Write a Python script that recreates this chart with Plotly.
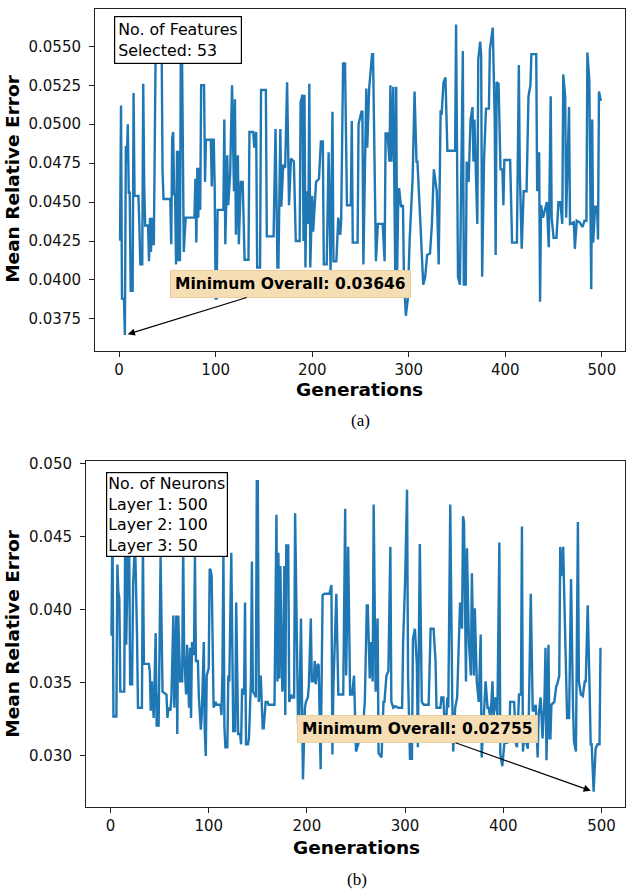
import plotly.graph_objects as go

W, H = 629, 893

# ---------------- data ----------------
gen_a = [0, 1, 2, 3, 5, 6, 7, 8, 9, 10, 11, 12, 14, 15, 16, 20, 21, 22, 24, 25, 26, 27, 30, 31, 32, 33, 34, 35, 36, 38,
         39, 44, 45, 46, 53, 54, 55, 56, 57, 58, 59, 60, 61, 62, 63, 64, 65, 66, 67, 68, 69, 78, 79, 80, 81, 82, 83, 84,
         85, 88, 89, 90, 95, 96, 97, 98, 99, 100, 101, 102, 108, 109, 110, 112, 113, 115, 117, 119, 120, 121, 123, 124,
         126, 128, 130, 134, 135, 139, 140, 142, 143, 146, 147, 152, 153, 160, 162, 164, 165, 167, 168, 170, 172, 174,
         176, 178, 181, 183, 187, 188, 190, 191, 192, 193, 194, 196, 197, 198, 200, 201, 203, 204, 207, 209, 211, 212,
         215, 217, 219, 221, 222, 225, 227, 229, 230, 232, 234, 236, 240, 241, 242, 247, 248, 251, 252, 253, 256, 257,
         259, 262, 263, 264, 266, 268, 273, 275, 276, 278, 280, 281, 282, 284, 286, 287, 288, 289, 290, 292, 294, 295,
         297, 299, 301, 304, 306, 308, 309, 312, 315, 317, 319, 322, 324, 326, 328, 329, 331, 333, 334, 336, 338, 340,
         348, 349, 351, 353, 356, 357, 359, 360, 362, 364, 366, 367, 368, 369, 371, 372, 374, 375, 376, 378, 380, 383,
         384, 387, 389, 390, 391, 393, 395, 397, 398, 399, 405, 407, 412, 414, 415, 417, 419, 422, 424, 426, 427, 432,
         433, 435, 436, 437, 439, 443, 445, 447, 448, 450, 453, 455, 457, 459, 460, 462, 463, 466, 467, 471, 472, 474,
         477, 480, 482, 484, 485, 487, 489, 490, 491, 493, 495, 496, 497, 499]
mre_a = [0.0426, 0.0426, 0.0512, 0.0388, 0.0388, 0.03646, 0.0486, 0.0476, 0.0500, 0.0456, 0.0456, 0.0393, 0.0393,
         0.0520, 0.0454, 0.0454, 0.0435, 0.0410, 0.0410, 0.0526, 0.0461, 0.0435, 0.0435, 0.0412, 0.0440, 0.0418,
         0.0440, 0.0423, 0.0423, 0.0557, 0.0557, 0.0557, 0.0470, 0.0452, 0.0452, 0.0423, 0.0491, 0.0495, 0.0455,
         0.0455, 0.0410, 0.0483, 0.0412, 0.0483, 0.0412, 0.0557, 0.0557, 0.0505, 0.0418, 0.0430, 0.0440, 0.0440,
         0.0465, 0.0424, 0.0472, 0.0440, 0.0472, 0.0445, 0.0525, 0.0525, 0.0463, 0.0490, 0.0490, 0.0460, 0.0490,
         0.0490, 0.0460, 0.0388, 0.0388, 0.0445, 0.0445, 0.0503, 0.0423, 0.0480, 0.0448, 0.0468, 0.0525, 0.0457,
         0.0516, 0.0429, 0.0480, 0.0423, 0.0463, 0.0463, 0.0413, 0.0413, 0.0495, 0.0495, 0.0485, 0.0495, 0.0408,
         0.0408, 0.0522, 0.0522, 0.0428, 0.0428, 0.0497, 0.0408, 0.0408, 0.0497, 0.0447, 0.0474, 0.0472, 0.0527,
         0.0448, 0.0478, 0.0476, 0.0425, 0.0425, 0.0514, 0.0519, 0.0425, 0.0519, 0.0408, 0.0457, 0.0436, 0.0526,
         0.0408, 0.0454, 0.0431, 0.0450, 0.0463, 0.0465, 0.0489, 0.0489, 0.0410, 0.0410, 0.0482, 0.0406, 0.0508,
         0.0412, 0.0412, 0.0440, 0.0429, 0.0438, 0.0539, 0.0539, 0.0448, 0.0448, 0.0502, 0.0424, 0.0424, 0.0500,
         0.0508, 0.0508, 0.0410, 0.0523, 0.0485, 0.0523, 0.0545, 0.0545, 0.0504, 0.0412, 0.0436, 0.0436, 0.0412,
         0.0494, 0.0494, 0.0476, 0.0525, 0.0476, 0.0524, 0.0406, 0.0524, 0.0406, 0.0448, 0.0459, 0.0447, 0.0448,
         0.0402, 0.0377, 0.0388, 0.0427, 0.0465, 0.0521, 0.0476, 0.0476, 0.0437, 0.0397, 0.0402, 0.0416, 0.0417,
         0.0436, 0.0471, 0.0463, 0.0457, 0.0410, 0.0509, 0.0506, 0.0527, 0.0530, 0.0483, 0.0483, 0.0564, 0.0402,
         0.0397, 0.0547, 0.0397, 0.0397, 0.0476, 0.0463, 0.0503, 0.0511, 0.0476, 0.0503, 0.0478, 0.0436, 0.0542,
         0.0553, 0.0544, 0.0402, 0.0478, 0.0510, 0.0510, 0.0548, 0.0562, 0.0504, 0.0416, 0.0527, 0.0526, 0.0471,
         0.0471, 0.0448, 0.0477, 0.0477, 0.0424, 0.0424, 0.0538, 0.0470, 0.0420, 0.0457, 0.0457, 0.0518, 0.0525,
         0.0545, 0.0545, 0.0457, 0.0482, 0.0386, 0.0448, 0.0440, 0.0450, 0.0421, 0.0518, 0.0440, 0.0427, 0.0427,
         0.0450, 0.0450, 0.0436, 0.0532, 0.0518, 0.0440, 0.0511, 0.0436, 0.0437, 0.0420, 0.0438, 0.0437, 0.0434,
         0.0438, 0.0438, 0.0546, 0.0528, 0.0394, 0.0503, 0.0424, 0.0447, 0.0447, 0.0426, 0.0521, 0.0515]

gen_b = [0, 1, 2, 3, 6, 7, 8, 9, 10, 14, 15, 16, 18, 19, 20, 22, 23, 25, 27, 28, 32, 33, 34, 39, 40, 41, 42, 43, 44, 46,
         47, 48, 49, 51, 53, 57, 58, 59, 61, 62, 64, 65, 67, 68, 69, 71, 73, 74, 75, 77, 78, 80, 81, 82, 83, 85, 86, 87,
         89, 90, 92, 93, 95, 96, 97, 98, 100, 101, 102, 103, 105, 107, 108, 112, 113, 114, 115, 116, 117, 119, 120, 121,
         123, 125, 127, 128, 130, 132, 133, 134, 136, 137, 138, 140, 141, 143, 144, 145, 147, 148, 149, 150, 151, 153,
         155, 156, 158, 160, 161, 167, 168, 169, 170, 171, 172, 173, 175, 176, 177, 178, 179, 181, 182, 184, 185, 187,
         188, 190, 191, 192, 194, 196, 198, 199, 201, 202, 204, 205, 207, 208, 209, 211, 212, 214, 216, 218, 223, 225,
         226, 227, 230, 232, 237, 239, 240, 242, 244, 246, 248, 250, 254, 256, 257, 259, 261, 262, 264, 265, 267, 268,
         270, 272, 273, 276, 278, 279, 281, 283, 285, 286, 288, 290, 293, 297, 298, 300, 302, 303, 305, 307, 308, 310,
         312, 313, 314, 315, 317, 319, 324, 326, 329, 331, 332, 336, 337, 339, 341, 343, 344, 346, 348, 349, 351, 353,
         356, 358, 359, 360, 362, 363, 365, 367, 368, 370, 371, 372, 373, 375, 377, 378, 380, 382, 384, 385, 387, 389,
         390, 392, 394, 396, 397, 399, 401, 402, 404, 406, 407, 411, 413, 414, 416, 418, 419, 420, 422, 423, 425, 426,
         428, 430, 431, 433, 435, 436, 438, 440, 442, 443, 444, 446, 447, 448, 449, 452, 454, 455, 457, 458, 459, 461,
         462, 464, 465, 467, 469, 471, 472, 474, 476, 477, 479, 481, 483, 484, 486, 488, 489, 490, 492, 494, 496, 498,
         499]
mre_b = [0.0383, 0.0383, 0.0462, 0.0327, 0.0327, 0.0431, 0.0412, 0.0408, 0.0344, 0.0344, 0.0457, 0.0376, 0.0448,
         0.0448, 0.0349, 0.0349, 0.0417, 0.0448, 0.0383, 0.0333, 0.0333, 0.0446, 0.0363, 0.0363, 0.0358, 0.0331,
         0.0351, 0.0331, 0.0326, 0.0384, 0.0320, 0.0342, 0.0320, 0.0436, 0.0344, 0.0342, 0.0326, 0.0333, 0.0331,
         0.0339, 0.0396, 0.0333, 0.0396, 0.0315, 0.0396, 0.0351, 0.0351, 0.0446, 0.0369, 0.0342, 0.0376, 0.0333,
         0.0374, 0.0326, 0.0378, 0.0369, 0.0437, 0.0365, 0.0365, 0.0340, 0.0318, 0.0328, 0.0378, 0.0317, 0.0300,
         0.0355, 0.0360, 0.0428, 0.0427, 0.0423, 0.0333, 0.0337, 0.0335, 0.0335, 0.0328, 0.0358, 0.0439, 0.0320,
         0.0306, 0.0306, 0.0355, 0.0351, 0.0439, 0.0317, 0.0317, 0.0405, 0.0315, 0.0315, 0.0308, 0.0346, 0.0342,
         0.0405, 0.0308, 0.0308, 0.0312, 0.0351, 0.0433, 0.0344, 0.0342, 0.0340, 0.0488, 0.0488, 0.0337, 0.0355,
         0.0319, 0.0319, 0.0337, 0.0337, 0.0335, 0.0335, 0.0394, 0.0465, 0.0351, 0.0439, 0.0353, 0.0430, 0.0344,
         0.0351, 0.0430, 0.0328, 0.0444, 0.0444, 0.0337, 0.0342, 0.0340, 0.0340, 0.0466, 0.0355, 0.0322, 0.0315,
         0.0394, 0.0284, 0.0333, 0.0337, 0.0340, 0.0348, 0.0394, 0.0351, 0.0351, 0.0365, 0.0349, 0.0363, 0.0362,
         0.0291, 0.0410, 0.0411, 0.0411, 0.0417, 0.0301, 0.0348, 0.0411, 0.0342, 0.0342, 0.0469, 0.0355, 0.0443,
         0.0342, 0.0342, 0.0355, 0.0303, 0.0312, 0.0328, 0.0319, 0.0337, 0.0403, 0.0403, 0.0353, 0.0378, 0.0351,
         0.0472, 0.0344, 0.0394, 0.0302, 0.0299, 0.0337, 0.0337, 0.0355, 0.0358, 0.0443, 0.0337, 0.0333, 0.0334,
         0.0333, 0.0333, 0.0378, 0.0419, 0.0482, 0.0355, 0.0298, 0.0298, 0.0380, 0.0387, 0.0362, 0.0306, 0.0380,
         0.0445, 0.0337, 0.0335, 0.0335, 0.0387, 0.0387, 0.0365, 0.0333, 0.0333, 0.0340, 0.0340, 0.0310, 0.0340,
         0.0333, 0.0472, 0.0340, 0.0303, 0.0333, 0.0340, 0.0405, 0.0387, 0.0464, 0.0460, 0.0351, 0.0442, 0.0378,
         0.0355, 0.0425, 0.0355, 0.0401, 0.0378, 0.0351, 0.0337, 0.0383, 0.0299, 0.0328, 0.0351, 0.0333, 0.0333,
         0.0326, 0.0351, 0.0326, 0.0340, 0.0328, 0.0446, 0.0301, 0.0293, 0.0308, 0.0310, 0.0309, 0.0310, 0.0337,
         0.0337, 0.0308, 0.0306, 0.0342, 0.0342, 0.0457, 0.0303, 0.0319, 0.0310, 0.0305, 0.0328, 0.0411, 0.0331,
         0.0331, 0.0335, 0.0299, 0.0328, 0.0340, 0.0312, 0.0340, 0.0374, 0.0297, 0.0376, 0.0312, 0.0312, 0.0335,
         0.0337, 0.0348, 0.0349, 0.0355, 0.0443, 0.0423, 0.0443, 0.0412, 0.0358, 0.0326, 0.0326, 0.0421, 0.0333,
         0.0310, 0.0303, 0.0460, 0.0351, 0.0342, 0.0341, 0.0351, 0.0351, 0.0403, 0.0342, 0.0308, 0.0308, 0.02755,
         0.0305, 0.0308, 0.0308, 0.0374]

x_ticks = [0, 100, 200, 300, 400, 500]
y_ticks_a = [0.0375, 0.0400, 0.0425, 0.0450, 0.0475, 0.0500, 0.0525, 0.0550]
y_ticks_b = [0.030, 0.035, 0.040, 0.045, 0.050]

info_a = "No. of Features<br>Selected: 53"
info_b = "No. of Neurons<br>Layer 1: 500<br>Layer 2: 100<br>Layer 3: 50"
min_a_gen, min_a_val = 6, 0.03646
min_b_gen, min_b_val = 492, 0.02755
label_a_pos = (177.6, 0.03974)
label_b_pos = (312.6, 0.03183)

# ---------------- figure ----------------
LINE = '#1f77b4'
FONT = 'DejaVu Sans'

fig = go.Figure()
fig.add_trace(go.Scatter(x=gen_a, y=mre_a, mode='lines', line=dict(color=LINE, width=2.4),
                         xaxis='x', yaxis='y', showlegend=False))
fig.add_trace(go.Scatter(x=gen_b, y=mre_b, mode='lines', line=dict(color=LINE, width=2.4),
                         xaxis='x2', yaxis='y2', showlegend=False))

def px(xp):
    return xp / W

def py(yp):
    return 1 - yp / H

axis_common = dict(showline=True, mirror=True, linecolor='#222', linewidth=1, ticks='outside',
                   ticklen=5, tickwidth=1, tickcolor='#222', showgrid=False, zeroline=False,
                   tickfont=dict(family=FONT, size=15, color='#111'))

fig.update_layout(
    width=W, height=H, margin=dict(l=0, r=0, t=0, b=0),
    paper_bgcolor='white', plot_bgcolor='white',
    xaxis=dict(domain=[px(95), px(625)], range=[-24.95, 523.95], tickvals=x_ticks,
               anchor='y', ticklabelstandoff=0, **axis_common),
    yaxis=dict(domain=[py(347), py(3)], range=[0.03546, 0.0574], tickvals=y_ticks_a,
               tickformat='.4f', anchor='x', ticklabelstandoff=5, **axis_common),
    xaxis2=dict(domain=[px(86), px(625)], range=[-24.95, 523.95], tickvals=x_ticks,
                anchor='y2', ticklabelstandoff=0, **axis_common),
    yaxis2=dict(domain=[py(806.7), py(458.3)], range=[0.02649, 0.05016], tickvals=y_ticks_b,
                tickformat='.3f', anchor='x2', ticklabelstandoff=5, **axis_common),
)

ann = []
# axis titles
for yc, xc in [(174, 13), (632, 13)]:
    ann.append(dict(text='<b>Mean Relative Error</b>', xref='paper', yref='paper', x=px(xc), y=py(yc),
                    xanchor='center', yanchor='middle', textangle=-90, showarrow=False,
                    font=dict(family=FONT, size=18.5, color='black')))
for yc, xc in [(386, 359), (847, 356)]:
    ann.append(dict(text='<b>Generations</b>', xref='paper', yref='paper', x=px(xc), y=py(yc),
                    xanchor='center', yanchor='middle', showarrow=False,
                    font=dict(family=FONT, size=18.5, color='black')))
# captions
for txt, yc, xc in [('(a)', 417, 360), ('(b)', 879, 357)]:
    ann.append(dict(text=txt, xref='paper', yref='paper', x=px(xc), y=py(yc), xanchor='center',
                    yanchor='middle', showarrow=False,
                    font=dict(family='Liberation Serif', size=17, color='black')))
# info boxes
ann.append(dict(text=info_a, xref='paper', yref='paper', x=px(114), y=py(10), xanchor='left', yanchor='top',
                align='left', showarrow=False, bgcolor='white', bordercolor='black', borderwidth=1.2,
                borderpad=3, font=dict(family=FONT, size=15.8, color='black')))
ann.append(dict(text=info_b, xref='paper', yref='paper', x=px(106), y=py(469), xanchor='left', yanchor='top',
                align='left', showarrow=False, bgcolor='white', bordercolor='black', borderwidth=1.2,
                borderpad=1, font=dict(family=FONT, size=15.8, color='black')))
# minimum annotations
for (xr, yr), g, v, (lx, ly) in [(('x', 'y'), min_a_gen, min_a_val, label_a_pos),
                                 (('x2', 'y2'), min_b_gen, min_b_val, label_b_pos)]:
    ann.append(dict(text=f'<b>Minimum Overall: {v:.5f}</b>', xref=xr, yref=yr, x=g, y=v,
                    axref=xr, ayref=yr, ax=lx, ay=ly, showarrow=True, arrowhead=2, arrowsize=1.2,
                    arrowwidth=1.2, arrowcolor='black', standoff=3,
                    bgcolor='#f5deb3', bordercolor='#e8cfa0', borderwidth=1, borderpad=4,
                    font=dict(family=FONT, size=15.5, color='black')))
fig.update_layout(annotations=ann)

fig.write_html('out.html', config={'displayModeBar': False},
               post_script="document.body.style.margin='0';document.body.style.padding='0';"
                           "document.body.style.overflow='hidden';")
